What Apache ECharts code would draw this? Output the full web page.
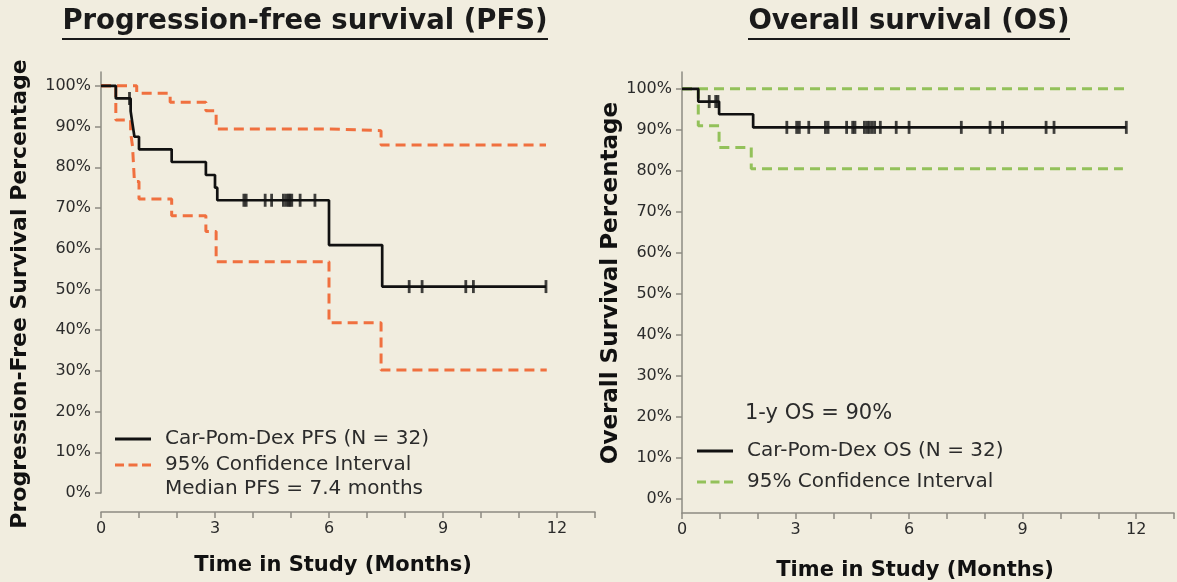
<!DOCTYPE html>
<html>
<head>
<meta charset="utf-8">
<script src="https://cdn.jsdelivr.net/npm/echarts@6/dist/echarts.min.js"></script>
<style>
  html, body { margin: 0; padding: 0; background: #f1eddf; }
  #chart { width: 1177px; height: 582px; }
</style>
</head>
<body>
<div id="chart"></div>
<script>
// Kaplan-Meier estimates, time in months, survival in percent
const pfsTimes  = [0, 0.39, 0.78, 0.83, 0.88, 1.0, 1.86, 2.76, 3.0, 3.06, 6.0, 7.4, 11.71];
const pfsValues = [100, 96.9, 93.8, 90.6, 87.5, 84.4, 81.3, 78.1, 75.0, 71.9, 60.9, 50.7, 50.7];
const pfsUpperTimes  = [0, 0.94, 1.82, 2.76, 3.03, 6.0, 7.37, 11.71];
const pfsUpperValues = [100, 98.2, 96.0, 93.9, 89.4, 89.0, 85.5, 85.5];
const pfsLowerTimes  = [0, 0.39, 0.78, 0.83, 0.88, 1.0, 1.86, 2.76, 3.03, 6.0, 7.37, 11.73];
const pfsLowerValues = [100, 91.6, 88.5, 85.1, 76.5, 72.2, 68.1, 64.2, 56.8, 41.8, 30.2, 30.2];
const pfsCensorTimes = [0.75, 3.76, 3.82, 4.32, 4.49, 4.80, 4.87, 4.93, 4.97, 5.02, 5.24, 5.63,
                        8.11, 8.45, 9.6, 9.8, 11.71];

const osTimes  = [0, 0.43, 0.98, 1.88, 11.74];
const osValues = [100, 96.9, 93.8, 90.6, 90.6];
const osUpperTimes  = [0, 11.74];
const osUpperValues = [100, 100];
const osLowerTimes  = [0, 0.43, 0.98, 1.83, 11.65];
const osLowerValues = [100, 91.0, 85.7, 80.5, 80.5];
const osCensorTimes = [0.72, 0.89, 0.95, 2.77, 3.03, 3.10, 3.35, 3.79, 3.86, 4.35, 4.51, 4.57,
                       4.82, 4.89, 4.95, 5.02, 5.09, 5.24, 5.66, 6.00, 7.38, 8.14, 8.47, 9.62,
                       9.83, 11.74];

const monthTicks = [0, 3, 6, 9, 12];
const percentTicks = [0, 10, 20, 30, 40, 50, 60, 70, 80, 90, 100];

const pfsName = 'Car-Pom-Dex PFS (N = 32)';
const osName = 'Car-Pom-Dex OS (N = 32)';
const ciLabel = '95% Confidence Interval';

const FONT = 'DejaVu Sans, Verdana, sans-serif';
const TEXT = '#2b2b2b';
const AXIS = '#8d8b83';
const ORANGE = '#f0703f';
const GREEN = '#93c15a';

// legend samples: a solid stroke and a three-dash stroke
const SOLID_ICON = 'path://M0,0h36v3h-36z';
const DASH_ICON = 'path://M0,0h9v3h-9z M13.5,0h9v3h-9z M27,0h9v3h-9z';

function pairs(times, values) {
  return times.map((t, i) => [t, values[i]]);
}
function stepAt(times, values, t) {
  let v = values[0];
  for (let i = 0; i < times.length; i++) if (times[i] <= t) v = values[i];
  return v;
}
function censorPoints(censors, times, values) {
  return censors.map(t => [t, stepAt(times, values, t)]);
}

function xAxisCfg(gridIndex, offset) {
  return {
    type: 'value', gridIndex, min: 0, max: 13, interval: 1, offset,
    axisLine: { show: true, onZero: false, lineStyle: { color: AXIS, width: 1.5 } },
    axisTick: { show: true, length: 6, lineStyle: { color: AXIS, width: 1.5 } },
    axisLabel: {
      color: TEXT, fontFamily: FONT, fontSize: 16, margin: 9,
      formatter: v => (monthTicks.indexOf(v) >= 0 ? String(v) : '')
    },
    splitLine: { show: false }
  };
}
function yAxisCfg(gridIndex, min, max) {
  return {
    type: 'value', gridIndex, min, max,
    axisLine: { show: true, lineStyle: { color: AXIS, width: 1.5 } },
    axisTick: { show: true, length: 6, customValues: percentTicks, lineStyle: { color: AXIS, width: 1.5 } },
    axisLabel: {
      color: TEXT, fontFamily: FONT, fontSize: 16, margin: 10,
      customValues: percentTicks, formatter: v => v + '%'
    },
    splitLine: { show: false }
  };
}
function kmLine(name, data, color, dashed, axisIdx) {
  return {
    name, type: 'line', step: 'end', data,
    xAxisIndex: axisIdx, yAxisIndex: axisIdx,
    symbol: 'none', silent: true, animation: false,
    lineStyle: { color, width: dashed ? 3 : 2.7, type: dashed ? [10, 6] : 'solid' },
    itemStyle: { color },
    z: dashed ? 2 : 3
  };
}
function censorSeries(data, axisIdx) {
  return {
    type: 'scatter', data, xAxisIndex: axisIdx, yAxisIndex: axisIdx,
    symbol: 'rect', symbolSize: [2.8, 13], silent: true, animation: false,
    itemStyle: { color: '#111' }, z: 4
  };
}
function legendCfg(names, left, top, gap) {
  return {
    data: [
      { name: names[0], icon: SOLID_ICON },
      { name: names[1], icon: DASH_ICON }
    ],
    orient: 'vertical', left, top,
    itemWidth: 36, itemHeight: 3, itemGap: gap, selectedMode: false,
    formatter: n => (n === names[1] ? ciLabel : n),
    textStyle: { fontFamily: FONT, fontSize: 20, color: TEXT, padding: [0, 0, 0, 9] }
  };
}

const chart = echarts.init(document.getElementById('chart'));
chart.setOption({
  backgroundColor: '#f1eddf',
  animation: false,
  title: [
    { text: 'Median PFS = 7.4 months', left: 160, top: 474,
      textStyle: { fontFamily: FONT, fontSize: 20, fontWeight: 'normal', color: TEXT } },
    { text: '1-y OS = 90%', left: 740, top: 398,
      textStyle: { fontFamily: FONT, fontSize: 21, fontWeight: 'normal', color: TEXT } }
  ],
  legend: [
    legendCfg([pfsName, 'PFS CI'], 110, 424, 6),
    legendCfg([osName, 'OS CI'], 692, 436, 11)
  ],
  grid: [
    { left: 101, top: 72, width: 494, height: 421 },
    { left: 682, top: 72, width: 494, height: 441 }
  ],
  xAxis: [xAxisCfg(0, 19), xAxisCfg(1, 0)],
  yAxis: [yAxisCfg(0, 0, 103.4), yAxisCfg(1, -3.4, 104.1)],
  series: [
    kmLine('PFS CI', pairs(pfsUpperTimes, pfsUpperValues), ORANGE, true, 0),
    kmLine('PFS CI', pairs(pfsLowerTimes, pfsLowerValues), ORANGE, true, 0),
    kmLine(pfsName, pairs(pfsTimes, pfsValues), '#111', false, 0),
    censorSeries(censorPoints(pfsCensorTimes, pfsTimes, pfsValues), 0),
    kmLine('OS CI', pairs(osUpperTimes, osUpperValues), GREEN, true, 1),
    kmLine('OS CI', pairs(osLowerTimes, osLowerValues), GREEN, true, 1),
    kmLine(osName, pairs(osTimes, osValues), '#111', false, 1),
    censorSeries(censorPoints(osCensorTimes, osTimes, osValues), 1)
  ],
  graphic: [
    // panel titles
    { type: 'text', x: 305, y: 22,
      style: { text: 'Progression-free survival (PFS)', fontFamily: FONT, fontSize: 27.5, fontWeight: 'bold',
               fill: '#1a1a1a', align: 'center', verticalAlign: 'middle' } },
    { type: 'text', x: 909, y: 22,
      style: { text: 'Overall survival (OS)', fontFamily: FONT, fontSize: 27.5, fontWeight: 'bold',
               fill: '#1a1a1a', align: 'center', verticalAlign: 'middle' } },
    // title underlines
    { type: 'line', shape: { x1: 62, y1: 39, x2: 548, y2: 39 }, style: { stroke: '#1a1a1a', lineWidth: 2 } },
    { type: 'line', shape: { x1: 748, y1: 39, x2: 1070, y2: 39 }, style: { stroke: '#1a1a1a', lineWidth: 2 } },
    // axis names
    { type: 'text', x: 20, y: 294, rotation: Math.PI / 2,
      style: { text: 'Progression-Free Survival Percentage', fontFamily: FONT, fontSize: 22, fontWeight: 'bold',
               fill: '#111', align: 'center', verticalAlign: 'middle' } },
    { type: 'text', x: 611, y: 283, rotation: Math.PI / 2,
      style: { text: 'Overall Survival Percentage', fontFamily: FONT, fontSize: 23, fontWeight: 'bold',
               fill: '#111', align: 'center', verticalAlign: 'middle' } },
    { type: 'text', x: 333, y: 566,
      style: { text: 'Time in Study (Months)', fontFamily: FONT, fontSize: 21, fontWeight: 'bold',
               fill: '#111', align: 'center', verticalAlign: 'middle' } },
    { type: 'text', x: 915, y: 571,
      style: { text: 'Time in Study (Months)', fontFamily: FONT, fontSize: 21, fontWeight: 'bold',
               fill: '#111', align: 'center', verticalAlign: 'middle' } }
  ]
});
</script>
</body>
</html>
